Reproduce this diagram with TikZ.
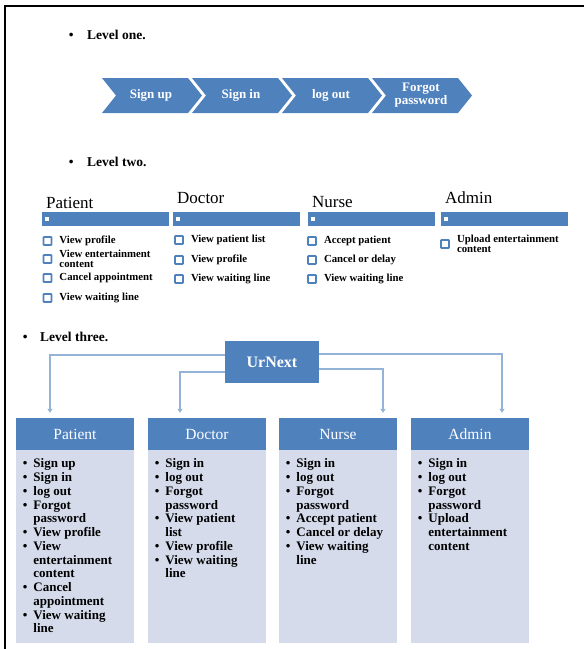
\documentclass[tikz,border=0pt]{standalone}
\usepackage{fontspec}
\setmainfont{Liberation Serif}
\usetikzlibrary{positioning,arrows.meta}
\definecolor{urblue}{RGB}{79,129,189}
\definecolor{urpale}{RGB}{213,219,235}
\definecolor{urline}{RGB}{149,179,215}
\begin{document}
\begin{tikzpicture}[x=1pt,y=-1pt,
    level/.style={anchor=west,inner sep=0pt,font=\bfseries\fontsize{13.5}{16}\selectfont},
    chevtext/.style={text=white,align=center,inner sep=0pt,font=\bfseries\fontsize{13}{13}\selectfont},
    role/.style={anchor=west,inner sep=0pt,font=\fontsize{17}{20}\selectfont},
    bar/.style={fill=urblue,minimum width=127pt,minimum height=14pt,inner sep=0pt,anchor=north west},
    barmark/.style={fill=white,minimum size=4.5pt,inner sep=0pt},
    tick/.style={draw=urblue,line width=1.6pt,fill=white,rounded corners=0.5pt,minimum size=8pt,inner sep=0pt},
    task/.style={anchor=west,inner sep=0pt,align=left,font=\bfseries\fontsize{10.8}{10.5}\selectfont},
    head/.style={fill=urblue,text=white,minimum width=118pt,minimum height=32pt,inner sep=0pt,font=\fontsize{15.5}{18}\selectfont},
    body/.style={fill=urpale,minimum width=118pt,minimum height=193pt,inner sep=0pt},
    items/.style={anchor=north west,inner sep=0pt,font=\bfseries\fontsize{13}{13.75}\selectfont},
    link/.style={draw=urline,line width=1.3pt,-{Triangle[width=5pt,length=4pt]},shorten >=5pt}]
    \useasboundingbox (0,0) rectangle (584,649);
    %% Frame
    \draw[line width=1.5pt] (5,649) -- (5,6) -- (584,6);
    %% Level one
    \node[level] (lvlone) at (68.6,35) {\makebox[18.4pt][l]{\textbullet}Level one.};
    \foreach \x/\name/\txt in {102/signup/Sign up,192/signin/Sign in,282/logout/log out,372/forgot/{Forgot\\password}} {
        \fill[urblue] (\x,78) -- ++(86,0) -- ++(14,17.5) -- ++(-14,17.5) -- ++(-86,0) -- ++(14,-17.5) -- cycle;
        \node[chevtext] (\name) at (\x+49,95.5) {\txt};
    }
    %% Level two
    \node[level] (lvltwo) at (68.6,162) {\makebox[18.4pt][l]{\textbullet}Level two.};
    \foreach \x/\y/\name/\txt in {42/203/patient/Patient,173/198/doctor/Doctor,308/202/nurse/Nurse,441/198/admin/Admin} {
        \node[role] (\name-title) at (\x+4,\y) {\txt};
        \node[bar] (\name-bar) at (\x,212) {};
        \node[barmark] (\name-mark) at ([xshift=5pt]\name-bar.west) {};
    }
    \foreach \x/\y/\id/\txt in {47.5/241/pa1/View profile,47.5/259/pa2/{View entertainment\\content},47.5/278/pa3/Cancel appointment,47.5/298/pa4/View waiting line,
        179/240/do1/View patient list,179/260/do2/View profile,179/279/do3/View waiting line,
        312/241/nu1/Accept patient,312/260/nu2/Cancel or delay,312/279/nu3/View waiting line,
        445/244/ad1/{Upload entertainment\\content}} {
        \node[tick] (\id) at (\x,\y) {};
        \node[task] (\id-txt) at ([xshift=7pt]\id.east) {\txt};
    }
    %% Level three
    \node[level] (lvlthree) at (22.6,337) {\makebox[17.4pt][l]{\textbullet}Level three.};
    \node[fill=urblue,text=white,minimum width=94pt,minimum height=42pt,inner sep=0pt,font=\bfseries\fontsize{16}{18}\selectfont] (urnext) at (272,362) {UrNext};
    \foreach \x/\name/\txt in {16/pat/Patient,148/doc/Doctor,279/nur/Nurse,411/adm/Admin} {
        \node[head] (\name-head) at (\x+59,434) {\txt};
        \node[body,below=0pt of \name-head] (\name-body) {};
    }
    \node[items] (pat-list) at (22.7,458) {\begin{tabular}{@{}l@{\hspace{6pt}}l@{}}
        \textbullet & Sign up\\ \textbullet & Sign in\\ \textbullet & log out\\ \textbullet & Forgot\\ & password\\
        \textbullet & View profile\\ \textbullet & View\\ & entertainment\\ & content\\
        \textbullet & Cancel\\ & appointment\\ \textbullet & View waiting\\ & line\end{tabular}};
    \node[items] (doc-list) at (154.7,458) {\begin{tabular}{@{}l@{\hspace{6pt}}l@{}}
        \textbullet & Sign in\\ \textbullet & log out\\ \textbullet & Forgot\\ & password\\
        \textbullet & View patient\\ & list\\ \textbullet & View profile\\ \textbullet & View waiting\\ & line\end{tabular}};
    \node[items] (nur-list) at (285.7,458) {\begin{tabular}{@{}l@{\hspace{6pt}}l@{}}
        \textbullet & Sign in\\ \textbullet & log out\\ \textbullet & Forgot\\ & password\\
        \textbullet & Accept patient\\ \textbullet & Cancel or delay\\ \textbullet & View waiting\\ & line\end{tabular}};
    \node[items] (adm-list) at (417.7,458) {\begin{tabular}{@{}l@{\hspace{6pt}}l@{}}
        \textbullet & Sign in\\ \textbullet & log out\\ \textbullet & Forgot\\ & password\\
        \textbullet & Upload\\ & entertainment\\ & content\end{tabular}};
    %% Links
    \draw[link] ([yshift=7pt]urnext.west) -| ([xshift=-25pt]pat-head.north);
    \draw[link] ([yshift=-10pt]urnext.west) -| ([xshift=-27pt]doc-head.north);
    \draw[link] ([yshift=-7pt]urnext.east) -| ([xshift=45pt]nur-head.north);
    \draw[link] ([yshift=8pt]urnext.east) -| ([xshift=32pt]adm-head.north);
\end{tikzpicture}
\end{document}
